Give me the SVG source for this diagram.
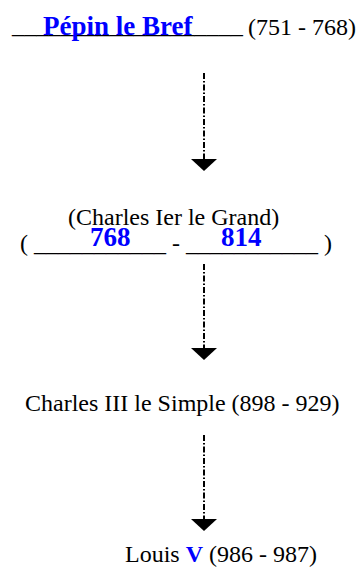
<svg xmlns="http://www.w3.org/2000/svg" width="359" height="567" viewBox="0 0 359 567">
<style>
.t{font-family:"Liberation Serif","Times New Roman",serif;font-size:24px;fill:#000}
.b{font-family:"Liberation Serif","Times New Roman",serif;font-size:27px;font-weight:bold;fill:#0000ff}
.c{stroke:#000;stroke-width:2;stroke-dasharray:6 2 1.5 2;fill:none}
</style>
<defs>
<marker id="ah" markerUnits="userSpaceOnUse" markerWidth="12" markerHeight="26" viewBox="0 -13 12 26" refX="0" refY="0" orient="auto">
<path d="M0,-13 L12,0 L0,13 Z" fill="#000"/>
</marker>
</defs>
<rect width="359" height="567" fill="#fff"/>
<g id="connectors">
<line class="c" x1="204" y1="73" x2="204" y2="159" marker-end="url(#ah)"/>
<line class="c" x1="204" y1="264" x2="204" y2="348" marker-end="url(#ah)"/>
<line class="c" x1="204" y1="435" x2="204" y2="519" marker-end="url(#ah)"/>
</g>
<g id="pepin">
<text class="t" x="12" y="33" textLength="231" lengthAdjust="spacingAndGlyphs">___________________</text>
<text class="b" x="43" y="35">Pépin le Bref</text>
<text class="t" x="248" y="35">(751 - 768)</text>
</g>
<g id="charlemagne">
<text class="t" x="68" y="225">(Charles Ier le Grand)</text>
<text class="t" x="20" y="251" xml:space="preserve">( ___________ - ___________ )</text>
<text class="b" x="90" y="246">768</text>
<text class="b" x="221" y="246">814</text>
</g>
<g id="charles3">
<text class="t" x="25" y="411">Charles III le Simple (898 - 929)</text>
</g>
<g id="louis5">
<text class="t" x="125" y="562">Louis <tspan style="font-weight:bold;fill:#0000ff">V</tspan> (986 - 987)</text>
</g>
</svg>
